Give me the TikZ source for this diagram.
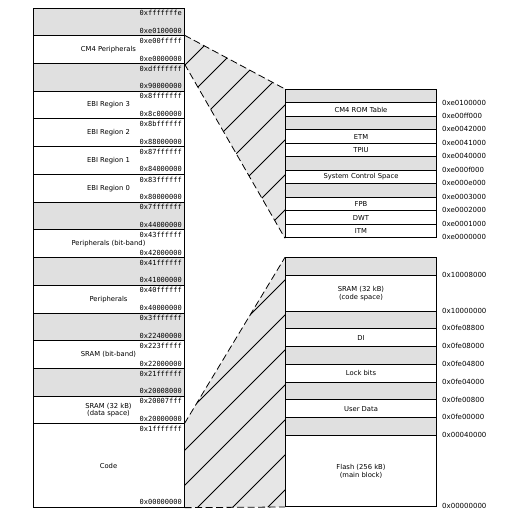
\documentclass[tikz,border=0pt]{standalone}
\usepackage{fontspec}
\newfontfamily\dvs{DejaVu Sans}
\newfontfamily\dvm{DejaVu Sans Mono}
\definecolor{boxgray}{RGB}{224,224,224}
\definecolor{zoomgray}{RGB}{230,230,230}
\pgfdeclarelayer{bg}
\pgfsetlayers{bg,main}
\tikzset{
  lbox/.style={draw, line width=1pt, minimum width=151pt, inner sep=0pt, anchor=north west,
               font=\dvs\fontsize{6.8}{7.8}\selectfont, align=center},
  gbox/.style={lbox, fill=boxgray},
  wbox/.style={lbox, fill=white},
  hexlab/.style={font=\dvm\fontsize{7}{8}\selectfont, inner sep=0pt},
  addr/.style={font=\dvs\fontsize{7}{8}\selectfont, inner sep=0pt, anchor=west},
  zoomedge/.style={line width=0.8pt, dash pattern=on 7pt off 3.5pt},
  hatchline/.style={line width=0.9pt},
}
% left row: name, top y, height, style, label, top hex, bottom hex
\newcommand\lrow[7]{%
  \node[#4, minimum height=#3pt] (#1) at (32.5,#2) {#5};
  \node[hexlab, anchor=north east] (#1t) at ([xshift=-2.5pt,yshift=-2.6pt]#1.north east) {#6};
  \node[hexlab, anchor=south east] (#1b) at ([xshift=-2.5pt,yshift=2.6pt]#1.south east) {#7};
}
% right row: name, top y, height, style, label, address at bottom
\newcommand\rrow[6]{%
  \node[#4, minimum height=#3pt] (#1) at (285,#2) {#5};
  \node[addr] (#1a) at ([xshift=5pt,yshift=1pt]#1.south east) {#6};
}
\begin{document}
\begin{tikzpicture}[x=1pt, y=-1pt]
\useasboundingbox (0,0) rectangle (510,514);
% left column
\lrow{l0}{7.5}{27.73}{gbox}{}{0xfffffffe}{0xe0100000}
\lrow{cm4}{35.23}{27.73}{wbox}{CM4 Peripherals}{0xe00fffff}{0xe0000000}
\lrow{l2}{62.96}{27.73}{gbox}{}{0xdfffffff}{0x90000000}
\lrow{ebi3}{90.69}{27.73}{wbox}{EBI Region 3}{0x8fffffff}{0x8c000000}
\lrow{ebi2}{118.42}{27.73}{wbox}{EBI Region 2}{0x8bffffff}{0x88000000}
\lrow{ebi1}{146.15}{27.73}{wbox}{EBI Region 1}{0x87ffffff}{0x84000000}
\lrow{ebi0}{173.88}{27.73}{wbox}{EBI Region 0}{0x83ffffff}{0x80000000}
\lrow{l7}{201.61}{27.73}{gbox}{}{0x7fffffff}{0x44000000}
\lrow{perbb}{229.34}{27.73}{wbox}{Peripherals (bit-band)}{0x43ffffff}{0x42000000}
\lrow{l9}{257.07}{27.73}{gbox}{}{0x41ffffff}{0x41000000}
\lrow{per}{284.8}{27.73}{wbox}{Peripherals}{0x40ffffff}{0x40000000}
\lrow{l11}{312.53}{27.73}{gbox}{}{0x3fffffff}{0x22400000}
\lrow{srambb}{340.26}{27.73}{wbox}{SRAM (bit-band)}{0x223fffff}{0x22000000}
\lrow{l13}{367.99}{27.73}{gbox}{}{0x21ffffff}{0x20008000}
\lrow{sramd}{395.72}{27.73}{wbox}{SRAM (32 kB)\\(data space)}{0x20007fff}{0x20000000}
\lrow{code}{423.45}{83.19}{wbox}{Code}{0x1fffffff}{0x00000000}
% right top box
\rrow{rt0}{89}{13.48}{gbox}{}{0xe0100000}
\rrow{rt1}{102.48}{13.48}{wbox}{CM4 ROM Table}{0xe00ff000}
\rrow{rt2}{115.96}{13.48}{gbox}{}{0xe0042000}
\rrow{rt3}{129.44}{13.48}{wbox}{ETM}{0xe0041000}
\rrow{rt4}{142.92}{13.48}{wbox}{TPIU}{0xe0040000}
\rrow{rt5}{156.4}{13.48}{gbox}{}{0xe000f000}
\rrow{rt6}{169.88}{13.48}{wbox}{System Control Space}{0xe000e000}
\rrow{rt7}{183.36}{13.48}{gbox}{}{0xe0003000}
\rrow{rt8}{196.84}{13.48}{wbox}{FPB}{0xe0002000}
\rrow{rt9}{210.32}{13.48}{wbox}{DWT}{0xe0001000}
\rrow{rt10}{223.8}{13.48}{wbox}{ITM}{0xe0000000}
% right bottom box
\rrow{rb0}{257.3}{17.77}{gbox}{}{0x10008000}
\rrow{rb1}{275.07}{35.54}{wbox}{SRAM (32 kB)\\(code space)}{0x10000000}
\rrow{rb2}{310.61}{17.77}{gbox}{}{0x0fe08800}
\rrow{rb3}{328.38}{17.77}{wbox}{DI}{0x0fe08000}
\rrow{rb4}{346.15}{17.77}{gbox}{}{0x0fe04800}
\rrow{rb5}{363.92}{17.77}{wbox}{Lock bits}{0x0fe04000}
\rrow{rb6}{381.69}{17.77}{gbox}{}{0x0fe00800}
\rrow{rb7}{399.46}{17.77}{wbox}{User Data}{0x0fe00000}
\rrow{rb8}{417.23}{17.77}{gbox}{}{0x00040000}
\rrow{rb9}{435.0}{71.0}{wbox}{Flash (256 kB)\\(main block)}{0x00000000}
% zoom regions
\begin{pgfonlayer}{bg}
  \fill[zoomgray] (cm4.north east) -- (rt0.north west) -- (rt10.south west) -- (cm4.south east) -- cycle;
  \begin{scope}
    \clip (cm4.north east) -- (rt0.north west) -- (rt10.south west) -- (cm4.south east) -- cycle;
    \foreach \c in {250,285,...,600} \draw[hatchline] (\c,0) -- (\c-520,520);
  \end{scope}
  \draw[zoomedge] (cm4.north east) -- (rt0.north west);
  \draw[zoomedge] (cm4.south east) -- (rt10.south west);
  \fill[zoomgray] (code.north east) -- (rb0.north west) -- (rb9.south west) -- (code.south east) -- cycle;
  \begin{scope}
    \clip (code.north east) -- (rb0.north west) -- (rb9.south west) -- (code.south east) -- cycle;
    \foreach \c in {460,495,...,880} \draw[hatchline] (\c,0) -- (\c-520,520);
  \end{scope}
  \draw[zoomedge] (code.north east) -- (rb0.north west);
  \draw[zoomedge] (code.south east) -- (rb9.south west);
\end{pgfonlayer}
\end{tikzpicture}
\end{document}
